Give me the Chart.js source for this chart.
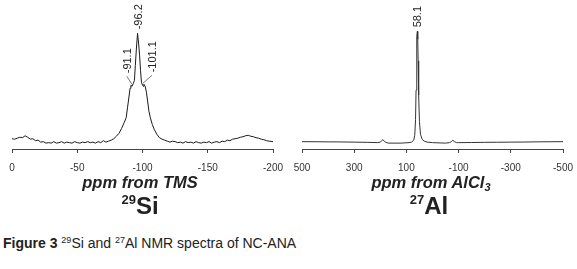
<!DOCTYPE html>
<html>
<head>
<meta charset="utf-8">
<script src="https://cdn.jsdelivr.net/npm/chart.js@4.4.0/dist/chart.umd.min.js"></script>
<style>
body { margin:0; background:#fff; width:577px; height:269px; overflow:hidden; position:relative; font-family:"Liberation Sans", Arial, sans-serif; color:#222; }
.box { position:absolute; }
.axtitle { position:absolute; font-weight:bold; font-style:italic; font-size:16.5px; text-align:center; white-space:nowrap; }
.nuc { position:absolute; font-weight:bold; font-size:24px; text-align:center; white-space:nowrap; }
.nuc sup { font-size:13px; vertical-align:10px; }
.axtitle sub { font-size:11px; vertical-align:-3px; }
#caption { position:absolute; left:3px; top:235px; font-size:14px; white-space:nowrap; color:#222; }
#caption sup { font-size:9px; vertical-align:5px; }
</style>
</head>
<body>
<div class="box" style="left:0;top:0;width:290px;height:183px"><canvas id="siChart"></canvas></div>
<div class="box" style="left:290px;top:0;width:287px;height:183px"><canvas id="alChart"></canvas></div>
<div class="axtitle" style="left:40px;width:200px;top:173px">ppm from TMS</div>
<div class="nuc" style="left:40px;width:200px;top:192px"><sup>29</sup>Si</div>
<div class="axtitle" style="left:331px;width:200px;top:173px">ppm from AlCl<sub>3</sub></div>
<div class="nuc" style="left:329px;width:200px;top:192px"><sup>27</sup>Al</div>
<div id="caption"><b>Figure 3</b> <sup>29</sup>Si and <sup>27</sup>Al NMR spectra of NC-ANA</div>
<script>
// 29Si spectrum (ppm, intensity)
const siPpm = [0,-2,-4,-6,-8,-10,-12,-14,-16,-18,-20,-22,-24,-26,-28,-30,-32,-34,-36,-38,-40,-42,-44,-46,-48,-50,-52,-54,-56,-58,-60,-62,-64,-66,-68,-70,-72,-74,-76,-78,-80,-82,-84,-86,-87.5,-88.5,-89.5,-90.5,-91.1,-92,-93,-93.8,-94.5,-95.3,-96.2,-97,-97.8,-98.5,-99.2,-100,-100.5,-101.1,-102,-103,-104,-105,-106,-107.5,-109,-111,-113,-115,-117,-119,-121,-123,-125,-127,-129,-131,-133,-135,-137,-139,-141,-143,-145,-147,-149,-151,-153,-155,-157,-159,-161,-163,-165,-167,-169,-171,-173,-175,-177,-179,-181,-183,-185,-187,-189,-191,-193,-195,-197,-200];
const siInt = [10.5,10,11,12,11.5,13.5,12,10,10.5,8.5,9,7,7.5,6,6.5,6,7.5,6,6.5,7.5,6,7,6.5,6,7.5,6.5,6,7,6.5,7.5,6.5,7,6,7.5,6.5,8.5,7,8,9,10.5,13,16,21,27,32,42,52,62,65,64,67,70,85,102,118,108,95,80,68,65,64,66,64,58,48,38,32,25,20,15,11.5,10,9,8,7,8,7.5,6.5,7,6,7.5,6.5,7,6,7.5,6.5,6,7,6.5,7.5,6,7,7.5,6.5,8,7.5,9,8.5,10,10.5,11,12,12.5,13.5,14,13,12.5,11.5,11,10,9.5,8.5,8,7.5];
const siTicks = [0,-50,-100,-150,-200];
const siLabels = [-91.1,-96.2,-101.1];

// 27Al spectrum (ppm, intensity)
const alPpm = [500,450,400,350,300,250,210,200,195,190,185,180,170,120,90,80,72,68,65,63,61,59.5,58.1,56.5,55,53,50,46,40,32,20,0,-50,-65,-72,-78,-84,-92,-100,-150,-200,-250,-300,-350,-400,-450,-500];
const alInt = [7.5,7.4,7.3,7.2,7,6.8,6.5,7,8.5,9.5,8,7,6,6,6.5,7,9,14,30,60,95,115,120,112,90,55,28,15,10,8,7,6.5,6,6.5,7.5,9,7.5,6.5,6.5,6.6,6.8,6.9,7,7.1,7.3,7.4,7.5];
const alTicks = [500,300,100,-100,-300,-500];
const alLabels = [58.1];

function pts(xs, ys) {
  return xs.map((v, i) => ({x: v, y: ys[i]}));
}

function intAt(xs, ys, p) {
  let best = 0;
  xs.forEach((v, i) => { if (Math.abs(v - p) < Math.abs(xs[best] - p)) best = i; });
  return ys[best];
}

// peak labels, rotated like the original
const peakLabels = {
  id: 'peakLabels',
  afterDatasetsDraw(chart, args, opts) {
    const ctx = chart.ctx;
    const xs = chart.scales.x, ys = chart.scales.y;
    ctx.save();
    ctx.font = '11px "Liberation Sans", Arial, sans-serif';
    ctx.fillStyle = '#222';
    ctx.strokeStyle = '#555';
    ctx.lineWidth = 0.8;
    opts.items.forEach(it => {
      const px = xs.getPixelForValue(it.ppm);
      const py = ys.getPixelForValue(intAt(opts.xs, opts.ys, it.ppm));
      const tx = px + it.dx, ty = py + it.dy;
      if (it.lead) {
        ctx.beginPath();
        ctx.moveTo(tx, ty + 3);
        ctx.lineTo(px + it.lead, py - 1);
        ctx.stroke();
      }
      ctx.save();
      ctx.translate(tx + 4, ty);
      ctx.rotate(-Math.PI / 2);
      ctx.textAlign = 'left';
      ctx.textBaseline = 'alphabetic';
      ctx.fillText(it.ppm.toFixed(1), 0, 0);
      ctx.restore();
    });
    ctx.restore();
  }
};

function makeChart(id, xs, ys, ticks, labelItems, color, padL, padR) {
  const lo = Math.min(...ticks), hi = Math.max(...ticks);
  return new Chart(document.getElementById(id), {
    type: 'line',
    data: {
      datasets: [{
        data: pts(xs, ys),
        borderColor: color,
        borderWidth: 1,
        pointRadius: 0,
        tension: 0,
        fill: false
      }]
    },
    options: {
      responsive: true,
      maintainAspectRatio: false,
      animation: false,
      layout: { padding: { left: padL, right: padR, top: 0, bottom: 0 } },
      plugins: {
        legend: { display: false },
        tooltip: { enabled: false },
        peakLabels: { items: labelItems, xs: xs, ys: ys }
      },
      scales: {
        x: {
          type: 'linear',
          reverse: true,
          min: lo, max: hi,
          afterBuildTicks: s => { s.ticks = ticks.map(v => ({value: v})); },
          grid: { drawOnChartArea: false, drawTicks: true, tickLength: 4, color: '#444' },
          border: { color: '#444', width: 1 },
          ticks: { color: '#333', font: { size: 10, lineHeight: 2.4, family: '"Liberation Sans", Arial, sans-serif' }, padding: 3, maxRotation: 0 }
        },
        y: { display: false, min: 0, max: 152 }
      }
    },
    plugins: [peakLabels]
  });
}

makeChart('siChart', siPpm, siInt, siTicks, [
  {ppm: siLabels[0], dx: -4, dy: -12, lead: 1},
  {ppm: siLabels[1], dx: 0, dy: -4},
  {ppm: siLabels[2], dx: 8, dy: -12, lead: -1}
], '#1a1a1a', 12, 17);

makeChart('alChart', alPpm, alInt, alTicks, [
  {ppm: alLabels[0], dx: 0, dy: -4}
], '#333', 12, 14);
</script>
</body>
</html>
